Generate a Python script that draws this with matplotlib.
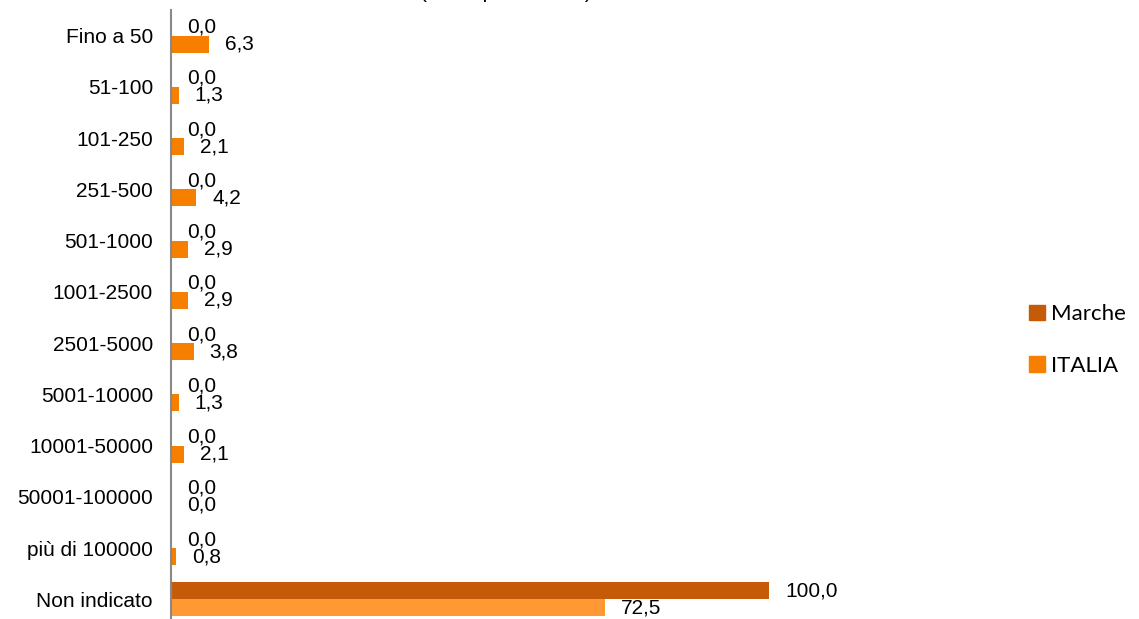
import matplotlib.pyplot as plt
import numpy as np

categorie = ['Fino a 50', '51-100', '101-250', '251-500', '501-1000', '1001-2500',
             '2501-5000', '5001-10000', '10001-50000', '50001-100000',
             'più di 100000', 'Non indicato']
marche = [0.0, 0.0, 0.0, 0.0, 0.0, 0.0, 0.0, 0.0, 0.0, 0.0, 0.0, 100.0]
italia = [6.3, 1.3, 2.1, 4.2, 2.9, 2.9, 3.8, 1.3, 2.1, 0.0, 0.8, 72.5]

col_marche = '#C55A09'
col_italia = '#F77F00'
col_italia_ultimo = '#FF9933'

plt.rcParams['font.family'] = ['Liberation Sans', 'DejaVu Sans']

fig = plt.figure(figsize=(11.39, 6.19), dpi=100)
ax = fig.add_axes([171 / 1139, -6 / 619, 718 / 1139, 615 / 619])

y = np.arange(len(categorie))
h = 0.33
colori_italia = [col_italia] * (len(italia) - 1) + [col_italia_ultimo]

ax.barh(y - h / 2, marche, height=h, color=col_marche, label='Marche')
ax.barh(y + h / 2, italia, height=h, color=colori_italia, label='ITALIA')

def fmt(v):
    return f'{v:.1f}'.replace('.', ',')

for i in range(len(categorie)):
    ax.annotate(fmt(marche[i]), (marche[i], y[i] - h / 2), xytext=(16, 0),
                textcoords='offset pixels', va='center', ha='left', fontsize=15)
    ax.annotate(fmt(italia[i]), (italia[i], y[i] + h / 2), xytext=(16, 0),
                textcoords='offset pixels', va='center', ha='left', fontsize=15)

ax.set_xlim(0, 120)
ax.set_ylim(len(categorie) - 0.5, -0.5)
ax.set_yticks(y)
ax.set_yticklabels(categorie, fontsize=15)
ax.tick_params(axis='y', length=0, pad=13)
ax.set_xticks([])
for s in ['top', 'right', 'bottom']:
    ax.spines[s].set_visible(False)
ax.spines['left'].set_color('#898989')
ax.spines['left'].set_linewidth(1.5)

# titolo tagliato in alto nell'originale
fig.text(506 / 1139, 1.0 + 8 / 619, '(valori percentuali)', ha='center',
         va='center', fontsize=15)

handles = [plt.Rectangle((0, 0), 1, 1, color=col_marche),
           plt.Rectangle((0, 0), 1, 1, color=col_italia)]
fig.legend(handles, ['Marche', 'ITALIA'], loc='center left',
           bbox_to_anchor=(1029 / 1139, 1 - 340 / 619), frameon=False,
           borderpad=0, borderaxespad=0,
           handlelength=0.7, handleheight=0.7, handletextpad=0.3,
           labelspacing=1.4, prop={'family': 'Lato', 'size': 16})

fig.savefig('out.png', dpi=100)
